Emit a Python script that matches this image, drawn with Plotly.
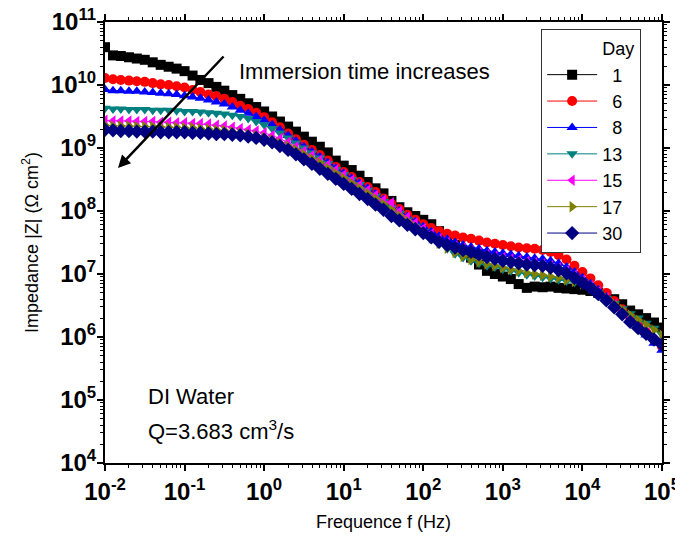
import plotly.graph_objects as go

# Frequency (Hz)
freq = [0.01, 0.0126, 0.0158, 0.02, 0.0251, 0.0316, 0.0398, 0.0501, 0.0631, 0.0794,
        0.1, 0.126, 0.158, 0.2, 0.251, 0.316, 0.398, 0.501, 0.631, 0.794,
        1, 1.26, 1.58, 2, 2.51, 3.16, 3.98, 5.01, 6.31, 7.94,
        10, 12.6, 15.8, 20, 25.1, 31.6, 39.8, 50.1, 63.1, 79.4,
        100, 126, 158, 200, 251, 316, 398, 501, 631, 794,
        1000, 1260, 1580, 2000, 2510, 3160, 3980, 5010, 6310, 7940,
        10000, 12600, 15800, 20000, 25100, 31600, 39800, 50100, 63100, 79400, 100000]

# log10 |Z| (Ohm cm^2)
logz_day1 = [10.60, 10.47, 10.46, 10.44, 10.42, 10.40, 10.36, 10.32, 10.29, 10.26,
             10.22, 10.15, 10.08, 10.03, 9.97, 9.91, 9.84, 9.78, 9.71, 9.65,
             9.58, 9.50, 9.42, 9.34, 9.26, 9.18, 9.10, 9.02, 8.93, 8.80,
             8.72, 8.65, 8.56, 8.46, 8.36, 8.28, 8.16, 8.06, 7.98, 7.92,
             7.86, 7.79, 7.68, 7.56, 7.46, 7.36, 7.26, 7.15, 7.05, 7.00,
             6.96, 6.92, 6.84, 6.78, 6.80, 6.79, 6.80, 6.78, 6.77, 6.76,
             6.75, 6.73, 6.70, 6.66, 6.60, 6.52, 6.42, 6.36, 6.30, 6.23, 6.15]
logz_day6 = [10.11, 10.09, 10.08, 10.07, 10.06, 10.05, 10.03, 10.01, 10.00, 9.98,
             9.96, 9.92, 9.89, 9.85, 9.82, 9.78, 9.73, 9.67, 9.62, 9.56,
             9.49, 9.41, 9.33, 9.23, 9.14, 9.05, 8.97, 8.89, 8.80, 8.70,
             8.62, 8.54, 8.46, 8.38, 8.30, 8.20, 8.11, 8.03, 7.94, 7.86,
             7.79, 7.73, 7.68, 7.64, 7.61, 7.58, 7.56, 7.53, 7.50, 7.48,
             7.46, 7.44, 7.42, 7.41, 7.40, 7.38, 7.35, 7.30, 7.23, 7.13,
             7.03, 6.93, 6.82, 6.70, 6.57, 6.44, 6.32, 6.20, 6.08, 5.96, 5.85]
logz_day8 = [9.93, 9.91, 9.91, 9.90, 9.90, 9.89, 9.88, 9.87, 9.86, 9.85,
             9.83, 9.81, 9.79, 9.76, 9.73, 9.70, 9.65, 9.60, 9.55, 9.50,
             9.44, 9.37, 9.29, 9.20, 9.11, 9.02, 8.94, 8.86, 8.77, 8.68,
             8.60, 8.52, 8.44, 8.36, 8.27, 8.18, 8.09, 8.00, 7.91, 7.83,
             7.75, 7.67, 7.60, 7.55, 7.50, 7.46, 7.43, 7.40, 7.37, 7.35,
             7.33, 7.31, 7.29, 7.27, 7.25, 7.24, 7.21, 7.17, 7.11, 7.03,
             6.94, 6.85, 6.75, 6.64, 6.52, 6.40, 6.28, 6.16, 6.03, 5.90, 5.79]
logz_day13 = [9.63, 9.62, 9.62, 9.61, 9.61, 9.61, 9.60, 9.60, 9.60, 9.59,
              9.58, 9.58, 9.57, 9.56, 9.55, 9.54, 9.52, 9.50, 9.47, 9.42,
              9.37, 9.31, 9.24, 9.16, 9.08, 9.00, 8.92, 8.84, 8.75, 8.66,
              8.58, 8.50, 8.42, 8.33, 8.24, 8.15, 8.05, 7.96, 7.86, 7.76,
              7.67, 7.57, 7.48, 7.40, 7.32, 7.26, 7.21, 7.17, 7.13, 7.11,
              7.08, 7.05, 7.02, 6.99, 6.97, 6.95, 6.93, 6.91, 6.89, 6.87,
              6.84, 6.78, 6.70, 6.61, 6.53, 6.45, 6.37, 6.30, 6.22, 6.14, 6.04]
logz_day15 = [9.44, 9.43, 9.43, 9.43, 9.42, 9.42, 9.42, 9.41, 9.41, 9.40,
              9.40, 9.39, 9.39, 9.38, 9.36, 9.35, 9.33, 9.31, 9.29, 9.27,
              9.24, 9.20, 9.15, 9.09, 9.02, 8.95, 8.88, 8.81, 8.73, 8.65,
              8.57, 8.49, 8.41, 8.33, 8.25, 8.17, 8.13, 7.99, 7.90, 7.81,
              7.72, 7.64, 7.56, 7.50, 7.45, 7.41, 7.37, 7.34, 7.31, 7.28,
              7.26, 7.24, 7.22, 7.20, 7.18, 7.16, 7.13, 7.10, 7.05, 6.98,
              6.90, 6.81, 6.72, 6.62, 6.51, 6.40, 6.29, 6.18, 6.06, 5.95, 5.85]
logz_day17 = [9.36, 9.35, 9.35, 9.35, 9.34, 9.34, 9.34, 9.33, 9.33, 9.33,
              9.32, 9.32, 9.31, 9.30, 9.29, 9.28, 9.26, 9.24, 9.22, 9.20,
              9.17, 9.13, 9.08, 9.03, 8.97, 8.90, 8.83, 8.76, 8.68, 8.60,
              8.52, 8.44, 8.36, 8.28, 8.20, 8.11, 8.02, 7.93, 7.84, 7.75,
              7.66, 7.57, 7.49, 7.41, 7.34, 7.28, 7.23, 7.19, 7.16, 7.13,
              7.10, 7.07, 7.05, 7.02, 7.00, 6.98, 6.96, 6.94, 6.91, 6.88,
              6.84, 6.78, 6.71, 6.62, 6.53, 6.44, 6.35, 6.27, 6.19, 6.11, 6.03]
logz_day30 = [9.29, 9.28, 9.27, 9.27, 9.26, 9.26, 9.26, 9.25, 9.25, 9.25,
              9.25, 9.24, 9.24, 9.23, 9.22, 9.22, 9.21, 9.20, 9.18, 9.16,
              9.13, 9.09, 9.03, 8.97, 8.90, 8.82, 8.75, 8.67, 8.59, 8.51,
              8.43, 8.35, 8.27, 8.19, 8.10, 8.02, 7.92, 7.85, 7.78, 7.71,
              7.65, 7.58, 7.51, 7.46, 7.42, 7.38, 7.35, 7.31, 7.27, 7.24,
              7.21, 7.19, 7.17, 7.15, 7.14, 7.13, 7.10, 7.06, 7.01, 6.94,
              6.86, 6.78, 6.68, 6.58, 6.47, 6.36, 6.24, 6.14, 6.05, 5.96, 5.88]

days = ["1", "6", "8", "13", "15", "17", "30"]
series = [logz_day1, logz_day6, logz_day8, logz_day13, logz_day15, logz_day17, logz_day30]
colors = ["#000000", "#FF0000", "#0000FF", "#008080", "#FF00FF", "#808000", "#000080"]
symbols = ["square", "circle", "triangle-up", "triangle-down", "triangle-left",
           "triangle-right", "diamond"]
sizes = [10, 10, 10, 10, 10, 10, 11]

x_tickvals = [1e-2, 1e-1, 1e0, 1e1, 1e2, 1e3, 1e4, 1e5]
x_ticktext = ["10<sup>-2</sup>", "10<sup>-1</sup>", "10<sup>0</sup>", "10<sup>1</sup>",
              "10<sup>2</sup>", "10<sup>3</sup>", "10<sup>4</sup>", "10<sup>5</sup>"]
y_tickvals = [1e4, 1e5, 1e6, 1e7, 1e8, 1e9, 1e10, 1e11]
y_ticktext = ["10<sup>4</sup>", "10<sup>5</sup>", "10<sup>6</sup>", "10<sup>7</sup>",
              "10<sup>8</sup>", "10<sup>9</sup>", "10<sup>10</sup>", "10<sup>11</sup>"]

FONT = "Liberation Sans, Arial, sans-serif"
NB = "\u00a0"

fig = go.Figure()
# legend header row ("Day") as an invisible legend-only entry
fig.add_trace(go.Scatter(x=[None], y=[None], mode="markers", name="Day",
                         marker=dict(color="rgba(0,0,0,0)", size=1), hoverinfo="skip"))
for name, lz, c, s, sz in zip(days, series, colors, symbols, sizes):
    pad = NB * (2 if len(name) == 1 else 0)
    fig.add_trace(go.Scatter(
        x=freq, y=[10 ** v for v in lz], name=pad + name, mode="lines+markers",
        line=dict(color=c, width=1),
        marker=dict(symbol=s, size=sz, color=c, line=dict(width=0)),
    ))

axis_common = dict(
    type="log", showgrid=False, zeroline=False, automargin=False,
    showline=True, linecolor="black", linewidth=2, mirror="allticks",
    ticks="outside", ticklen=6, tickwidth=2, tickcolor="black",
    ticklabeloverflow="allow",
    tickfont=dict(family=FONT, size=24, color="black", weight="bold"),
    minor=dict(ticks="outside", ticklen=3, tickwidth=1, tickcolor="black", dtick="D1"),
)

fig.update_xaxes(range=[-2, 5], tickvals=x_tickvals, ticktext=x_ticktext,
                 title=dict(text=NB * 3 + "Frequence f (Hz)",
                            font=dict(family=FONT, size=18, color="black"), standoff=12),
                 **axis_common)
fig.update_yaxes(range=[4, 11], tickvals=y_tickvals, ticktext=y_ticktext,
                 ticklabelstandoff=-4,
                 title=dict(text="Impedance |Z| (\u03a9 cm<sup>2</sup>)",
                            font=dict(family=FONT, size=18, color="black"), standoff=8),
                 **axis_common)

fig.add_annotation(x=-1.837, y=8.683, ax=-0.492, ay=10.476, xref="x", yref="y",
                   axref="x", ayref="y", showarrow=True, arrowhead=2, arrowsize=1,
                   arrowwidth=2.5, arrowcolor="black", text="")
fig.add_annotation(x=0.237, y=0.887, xref="paper", yref="paper", xanchor="left",
                   yanchor="middle", showarrow=False, text="Immersion time increases",
                   font=dict(family=FONT, size=22, color="black"))
fig.add_annotation(x=0.073, y=0.150, xref="paper", yref="paper", xanchor="left",
                   yanchor="middle", showarrow=False, text="DI Water",
                   font=dict(family=FONT, size=22, color="black"))
fig.add_annotation(x=0.073, y=0.075, xref="paper", yref="paper", xanchor="left",
                   yanchor="middle", showarrow=False, text="Q=3.683 cm<sup>3</sup>/s",
                   font=dict(family=FONT, size=22, color="black"))

fig.update_layout(
    width=675, height=550,
    margin=dict(l=105, r=13, t=22, b=87, autoexpand=False),
    paper_bgcolor="white", plot_bgcolor="white",
    font=dict(family=FONT, color="black"),
    legend=dict(x=0.783, y=0.984, xanchor="left", yanchor="top",
                font=dict(family=FONT, size=18, color="black"),
                bordercolor="#333333", borderwidth=1, bgcolor="white",
                itemwidth=50, tracegroupgap=0),
    showlegend=True,
)

fig.write_html("out.html", config={"displayModeBar": False},
               post_script="document.body.style.margin='0px';")
